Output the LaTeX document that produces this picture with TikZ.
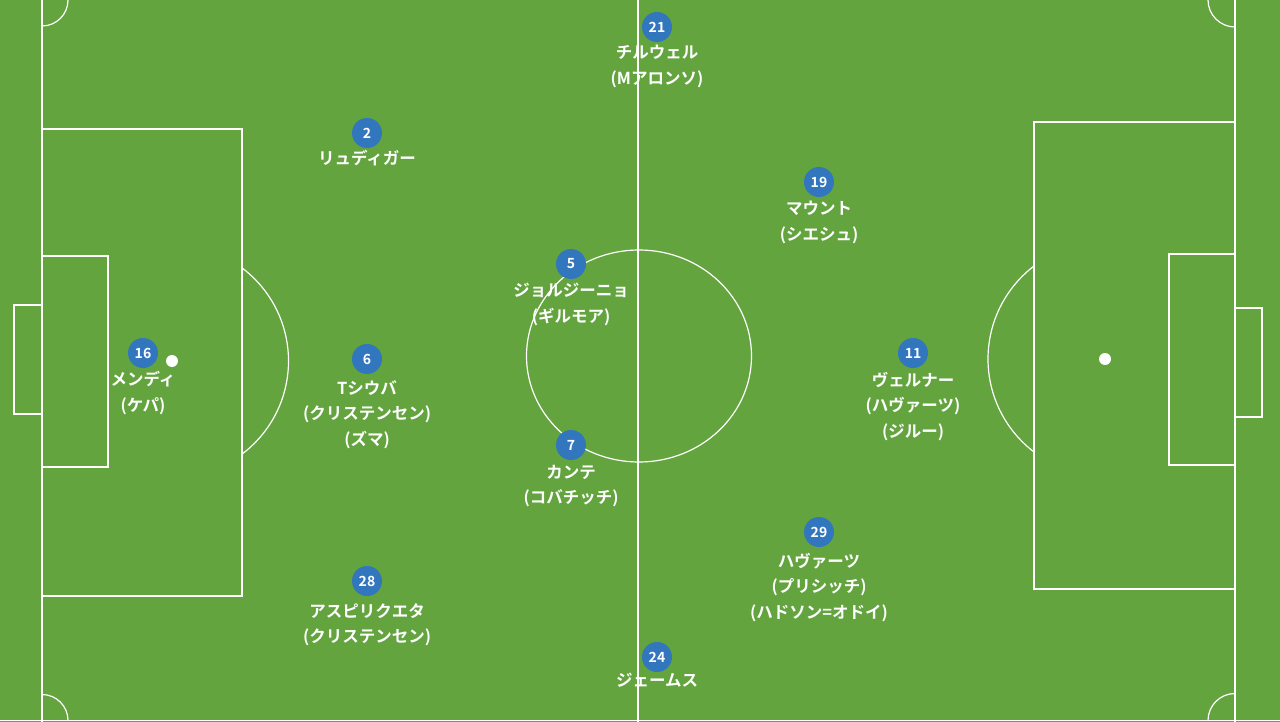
\documentclass[tikz,border=0pt]{standalone}
\usepackage{fontspec}
\newfontfamily\jp{Noto Sans CJK JP}[BoldFont={* Bold}]
\definecolor{pitch}{RGB}{99,164,63}
\definecolor{pblue}{RGB}{50,118,190}
\tikzset{
  line/.style={white, line width=1.2pt},
  player/.style={circle, fill=pblue, minimum size=30pt, inner sep=0pt, text=white, font=\jp\bfseries\fontsize{14}{14}\selectfont},
  plabel/.style={anchor=north, align=center, text=white, inner sep=0pt, font=\jp\bfseries\fontsize{16.5}{25.5}\selectfont},
}
\begin{document}
\begin{tikzpicture}[x=1pt,y=-1pt]
\fill[pitch] (0,0) rectangle (1280,722);
\useasboundingbox (0,0) rectangle (1280,722);
% outer lines
\draw[line] (42,0) -- (42,722);
\draw[line] (1235,0) -- (1235,722);
\draw[line] (638,0) -- (638,722);
\draw[line] (0,720.5) -- (1280,720.5);
% left
\draw[line] (42,129) rectangle (242,596);
\draw[line] (42,256) rectangle (108,467);
\draw[line] (42,305) -- (14,305) -- (14,414) -- (42,414);
\fill[white] (172,361) circle (6);
\begin{scope}\clip (243,0) rectangle (700,722);
\draw[line] (172,361) circle (116.5);
\end{scope}
% right
\draw[line] (1235,122) rectangle (1034,589);
\draw[line] (1235,254) rectangle (1169,465);
\draw[line] (1235,308) -- (1262,308) -- (1262,417) -- (1235,417);
\fill[white] (1105,359) circle (6);
\begin{scope}\clip (700,0) rectangle (1034,722);
\draw[line] (1105,359) circle (117);
\end{scope}
% centre
\draw[line] (639,356) ellipse [x radius=112.5, y radius=106];
% corners
\begin{scope}\clip (42,0) rectangle (1235,720.5);
\draw[line] (42,0) circle (26);
\draw[line] (42,720.5) circle (26);
\draw[line] (1235,0) circle (27);
\draw[line] (1235,720.5) circle (27);
\end{scope}
% players
\node[player] (p21) at (657,27) {21};
\node[plabel] (l21) at (657,45) {チルウェル\\(Mアロンソ)};
\node[player] (p2) at (367,133) {2};
\node[plabel] (l2) at (367,150) {リュディガー};
\node[player] (p19) at (819,182) {19};
\node[plabel] (l19) at (819,201) {マウント\\(シエシュ)};
\node[player] (p5) at (571,264) {5};
\node[plabel] (l5) at (571,283) {ジョルジーニョ\\(ギルモア)};
\node[player] (p16) at (143,353) {16};
\node[plabel] (l16) at (143,371) {メンディ\\(ケパ)};
\node[player] (p6) at (367,359) {6};
\node[plabel] (l6) at (367,380) {Tシウバ\\(クリステンセン)\\(ズマ)};
\node[player] (p11) at (913,353) {11};
\node[plabel] (l11) at (913,372) {ヴェルナー\\(ハヴァーツ)\\(ジルー)};
\node[player] (p7) at (571,445) {7};
\node[plabel] (l7) at (571,465) {カンテ\\(コバチッチ)};
\node[player] (p29) at (819,532) {29};
\node[plabel] (l29) at (819,553) {ハヴァーツ\\(プリシッチ)\\(ハドソン=オドイ)};
\node[player] (p28) at (367,581) {28};
\node[plabel] (l28) at (367,603) {アスピリクエタ\\(クリステンセン)};
\node[player] (p24) at (657,657) {24};
\node[plabel] (l24) at (657,673) {ジェームス};
\end{tikzpicture}
\end{document}
